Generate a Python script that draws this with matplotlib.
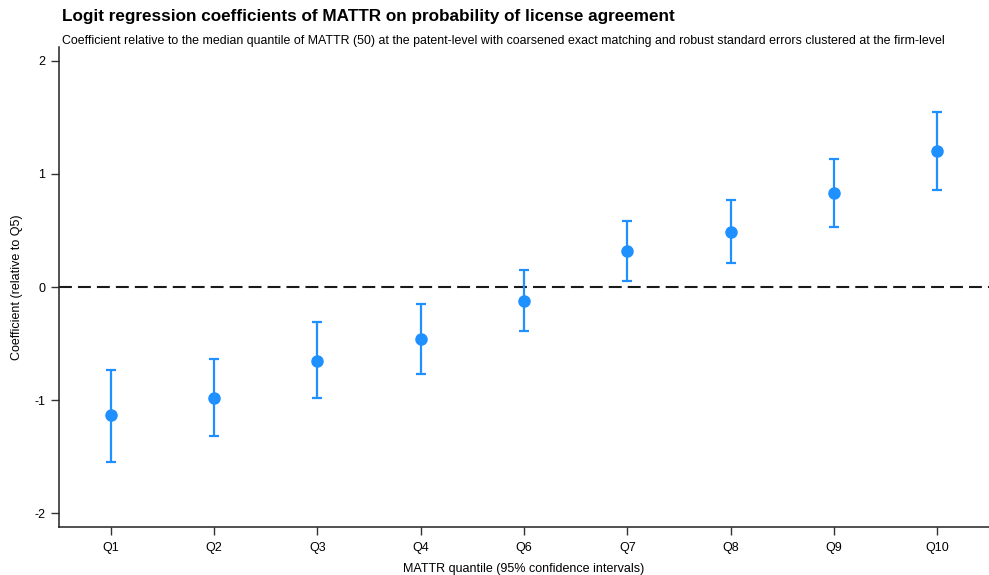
import numpy as np
import matplotlib
matplotlib.use("Agg")
import matplotlib.pyplot as plt

plt.rcParams['font.family'] = ['Liberation Sans', 'DejaVu Sans']
plt.rcParams['axes.unicode_minus'] = False

quantiles = ["Q1", "Q2", "Q3", "Q4", "Q6", "Q7", "Q8", "Q9", "Q10"]
coef = [-1.13, -0.98, -0.65, -0.46, -0.12, 0.32, 0.49, 0.83, 1.20]
ci_low = [-1.55, -1.32, -0.98, -0.77, -0.39, 0.05, 0.21, 0.53, 0.86]
ci_high = [-0.73, -0.64, -0.31, -0.15, 0.15, 0.58, 0.77, 1.13, 1.55]

x = np.arange(1, len(quantiles) + 1)
coef = np.array(coef)
yerr = np.vstack([coef - np.array(ci_low), np.array(ci_high) - coef])

fig = plt.figure(figsize=(9.89, 5.75), dpi=100)
ax = fig.add_axes([0.0597, 0.0835, 0.9403, 0.8345])

ax.axhline(0, color='#1a1a1a', lw=1.5, dashes=(6.2, 2.9), zorder=1)
ax.errorbar(x, coef, yerr=yerr, fmt='o', color='#1E90FF', ms=8,
            elinewidth=1.6, capsize=3.6, capthick=1.6, zorder=3)

ax.set_xlim(0.5, 9.5)
ax.set_ylim(-2.12, 2.12)
ax.set_xticks(x)
ax.set_xticklabels(quantiles)
ax.set_yticks([-2, -1, 0, 1, 2])
ax.tick_params(axis='both', labelsize=9, length=6, width=1, color='#333333')
ax.tick_params(axis='y', pad=4)
ax.tick_params(axis='x', pad=5)

for s in ['top', 'right']:
    ax.spines[s].set_visible(False)
for s in ['left', 'bottom']:
    ax.spines[s].set_color('#222222')
    ax.spines[s].set_linewidth(1.1)

ax.set_xlabel("MATTR quantile (95% confidence intervals)", fontsize=9, labelpad=6)
ax.set_ylabel("Coefficient (relative to Q5)", fontsize=9, va='center')
ax.yaxis.set_label_coords(-0.045, 0.5)

fig.text(0.0627, 0.972, "Logit regression coefficients of MATTR on probability of license agreement",
         fontsize=12.3, fontweight='bold', va='center', ha='left')
fig.text(0.0627, 0.929, "Coefficient relative to the median quantile of MATTR (50) at the patent-level "
         "with coarsened exact matching and robust standard errors clustered at the firm-level",
         fontsize=8.9, va='center', ha='left')

fig.savefig("out.png", dpi=100)
